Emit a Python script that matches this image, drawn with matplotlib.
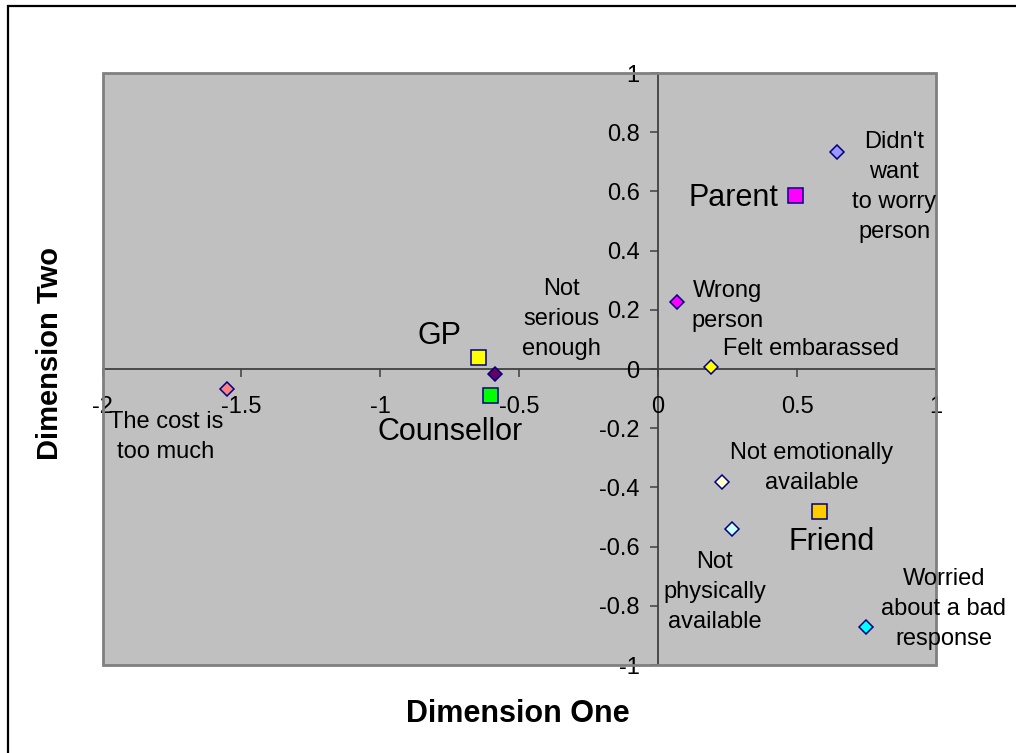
import matplotlib
matplotlib.use("Agg")
import matplotlib.pyplot as plt
from matplotlib.patches import Rectangle

plt.rcParams['font.family'] = ['Liberation Sans', 'DejaVu Sans']

# ---- data ----
labels = ["Didn't\nwant\nto worry\nperson", "Parent", "Not\nserious\nenough", "GP",
          "Counsellor", "Wrong\nperson", "Felt embarassed", "The cost is\ntoo much",
          "Not emotionally\navailable", "Not\nphysically\navailable", "Friend",
          "Worried\nabout a bad\nresponse"]
dim_one = [0.645, 0.492, -0.588, -0.649, -0.604, 0.069, 0.189, -1.552, 0.229, 0.264, 0.579, 0.748]
dim_two = [0.734, 0.587, -0.017, 0.042, -0.089, 0.227, 0.006, -0.069, -0.383, -0.541, -0.479, -0.871]
kinds = ["reason", "person", "reason", "person", "person", "reason", "reason", "reason",
         "reason", "reason", "person", "reason"]
colors = ["#9999FF", "#FF00FF", "#660066", "#FFFF00", "#00FF00", "#FF00FF", "#FFFF00",
          "#FF8080", "#FFFFCC", "#CCFFFF", "#FFCC00", "#00FFFF"]
xticks = [-2, -1.5, -1, -0.5, 0, 0.5, 1]
yticks = [-1, -0.8, -0.6, -0.4, -0.2, 0, 0.2, 0.4, 0.6, 0.8, 1]
xtick_labels = ["-2", "-1.5", "-1", "-0.5", "0", "0.5", "1"]
ytick_labels = ["-1", "-0.8", "-0.6", "-0.4", "-0.2", "0", "0.2", "0.4", "0.6", "0.8", "1"]

# label placement (offset pixels from point, alignment)
offsets = [(57, -35), (-16, -3), (67, 55), (-38, 21), (-40, -37), (50, -4), (100, 18),
           (-61, -48), (90, 14), (-17, -63), (13, -31), (78, 18)]
haligns = ["center", "right", "center", "center", "center", "center", "center", "center",
           "center", "center", "center", "center"]

fig = plt.figure(figsize=(10.16, 7.53), dpi=100)
fig.patch.set_facecolor("white")
fig.patches.append(Rectangle((8 / 1016, -0.1), 1.2, 1.1 - 6 / 753, transform=fig.transFigure,
                             fill=False, edgecolor="black", lw=1.6))

ax = fig.add_axes([102.5 / 1016, 1 - 665 / 753, (936 - 102.5) / 1016, (665 - 73) / 753])
ax.set_facecolor("#C0C0C0")
ax.set_xlim(-2, 1)
ax.set_ylim(-1, 1)

# border of plot area
ax.add_patch(Rectangle((0, 0), 1, 1, transform=ax.transAxes, fill=False,
                       edgecolor="#808080", lw=2, zorder=5, clip_on=False))

for s in ["top", "right"]:
    ax.spines[s].set_visible(False)
ax.spines["left"].set_position(("data", 0))
ax.spines["bottom"].set_position(("data", 0))
for s in ["left", "bottom"]:
    ax.spines[s].set_color("#404040")
    ax.spines[s].set_linewidth(1.3)
    ax.spines[s].set_zorder(1)

ax.set_xticks(xticks)
ax.set_xticklabels(xtick_labels)
ax.set_yticks(yticks)
ax.set_yticklabels(ytick_labels)
ax.tick_params(axis="both", direction="out", length=5.8, width=1.1, color="#404040",
               labelsize=17, labelcolor="black")
ax.tick_params(axis="x", pad=13.5)
ax.tick_params(axis="y", pad=7.5)

for x, y, k, c in zip(dim_one, dim_two, kinds, colors):
    if k == "person":
        ax.plot(x, y, marker="s", ms=10.8, mfc=c, mec="#000080", mew=1.1, ls="none",
                zorder=6, clip_on=False)
    else:
        ax.plot(x, y, marker="D", ms=7, mfc=c, mec="#000080", mew=1.1, ls="none",
                zorder=6, clip_on=False)

for lab, x, y, k, off, ha in zip(labels, dim_one, dim_two, kinds, offsets, haligns):
    size = 22 if k == "person" else 17
    ax.annotate(lab, (x, y), xytext=off, textcoords="offset pixels", ha=ha, va="center",
                fontsize=size, linespacing=1.47, zorder=7, annotation_clip=False)

fig.text(518 / 1016, 1 - 714 / 753, "Dimension One", ha="center", va="center",
         fontsize=22, fontweight="bold")
fig.text(50 / 1016, 1 - 353 / 753, "Dimension Two", ha="center", va="center",
         fontsize=21, fontweight="bold", rotation=90)

fig.savefig("out.png", dpi=100, facecolor="white")
